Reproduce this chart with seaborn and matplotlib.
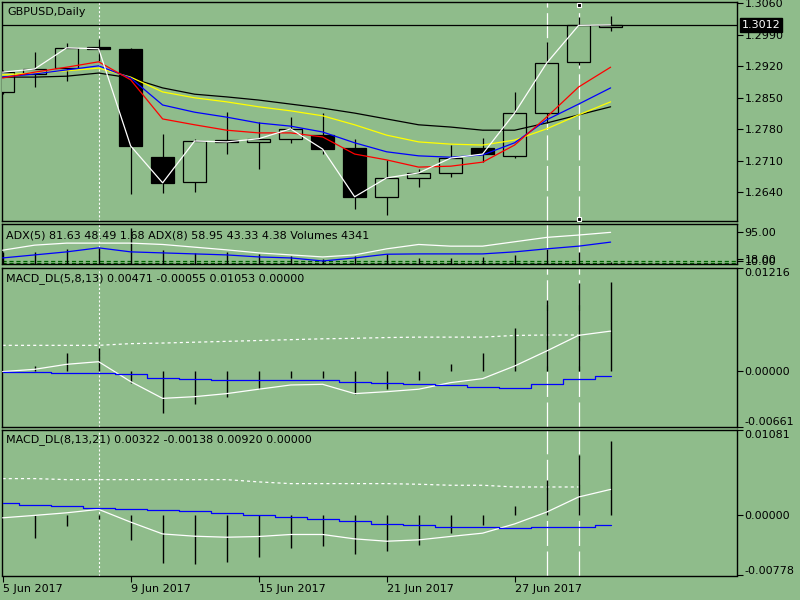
import matplotlib
matplotlib.use("Agg")
import matplotlib.pyplot as plt
import matplotlib.transforms as mtransforms
import seaborn as sns
import numpy as np

BG = "#8FBC8B"

sns.set_style("white")
plt.rcParams["font.family"] = ["DejaVu Sans"]
plt.rcParams["text.color"] = "black"
plt.rcParams["lines.scale_dashes"] = False

# ---- chart data --------------------------------------------------------
date_labels = ["5 Jun 2017", "9 Jun 2017", "15 Jun 2017", "21 Jun 2017", "27 Jun 2017"]
date_label_bars = [0, 4, 8, 12, 16]

opens = [1.2863, 1.2903, 1.2916, 1.2962, 1.2959, 1.2718, 1.2663, 1.2756, 1.2752, 1.2759,
         1.2767, 1.2739, 1.2630, 1.2672, 1.2683, 1.2739, 1.2721, 1.2816, 1.2930, 1.3007]
highs = [1.2912, 1.2952, 1.2972, 1.2981, 1.2960, 1.2770, 1.2759, 1.2818, 1.2796, 1.2807,
         1.2816, 1.2759, 1.2712, 1.2692, 1.2745, 1.2761, 1.2863, 1.2974, 1.3030, 1.3032]
lows = [1.2858, 1.2874, 1.2887, 1.2932, 1.2636, 1.2638, 1.2641, 1.2725, 1.2692, 1.2750,
        1.2725, 1.2603, 1.2590, 1.2652, 1.2674, 1.2707, 1.2716, 1.2794, 1.2922, 1.2998]
closes = [1.2907, 1.2914, 1.2961, 1.2959, 1.2743, 1.2661, 1.2754, 1.2752, 1.2759, 1.2781,
          1.2736, 1.2630, 1.2672, 1.2683, 1.2716, 1.2725, 1.2816, 1.2927, 1.3011, 1.3012]

ma_red = [1.2894, 1.2907, 1.2918, 1.2930, 1.2890, 1.2803, 1.2790, 1.2778, 1.2772, 1.2772,
          1.2763, 1.2725, 1.2712, 1.2696, 1.2698, 1.2707, 1.2745, 1.2807, 1.2874, 1.2918]
ma_blue = [1.2896, 1.2903, 1.2912, 1.2921, 1.2894, 1.2834, 1.2818, 1.2807, 1.2794, 1.2787,
           1.2774, 1.2750, 1.2730, 1.2721, 1.2718, 1.2723, 1.2750, 1.2801, 1.2836, 1.2872]
ma_yellow = [1.2901, 1.2905, 1.2910, 1.2916, 1.2896, 1.2863, 1.2850, 1.2841, 1.2830, 1.2821,
             1.2810, 1.2790, 1.2767, 1.2752, 1.2747, 1.2745, 1.2756, 1.2781, 1.2812, 1.2841]
ma_black = [1.2896, 1.2896, 1.2898, 1.2905, 1.2894, 1.2872, 1.2858, 1.2852, 1.2845, 1.2836,
            1.2827, 1.2816, 1.2803, 1.2790, 1.2785, 1.2778, 1.2778, 1.2794, 1.2812, 1.2830]
price_ticks = [1.3060, 1.2990, 1.2920, 1.2850, 1.2780, 1.2710, 1.2640]

adx_white = [41, 56, 62, 62, 62, 58, 50, 42, 33, 27, 21, 27, 45, 58, 53, 53, 66, 79, 86, 94]
adx_blue = [18, 27, 36, 48, 36, 33, 30, 27, 21, 18, 9, 18, 29, 30, 30, 30, 36, 45, 53, 65]
volumes = [36, 36, 45, 48, 107, 42, 33, 36, 30, 24, 15, 24, 29, 18, 18, 21, 27, 45, 36, 6]
adx_levels = [9, 3]
adx_ticks = [95, 16, 9]
adx_tick_labels = ["95.00", "18.00", "10.00"]

m1_hist = [0.0, 0.00059, 0.00209, 0.00276, -0.00142, -0.00491, -0.00385, -0.00307, -0.00216, -0.00086,
           -0.00086, -0.00267, -0.00216, -0.00106, 0.00087, 0.00217, 0.00504, 0.00835, 0.01035, 0.01053]
m1_main = [-0.00007, 0.00020, 0.00079, 0.00110, -0.00125, -0.00323, -0.00303, -0.00267, -0.00215, -0.00165,
           -0.00157, -0.00267, -0.00244, -0.00215, -0.00137, -0.00090, 0.00059, 0.00236, 0.00421, 0.00471]
m1_signal = [-0.00007, -0.00007, -0.00020, -0.00020, -0.00039, -0.00078, -0.00098, -0.00110, -0.00110, -0.00110,
             -0.00110, -0.00125, -0.00145, -0.00157, -0.00168, -0.00184, -0.00196, -0.00157, -0.00098, -0.00055]
m1_dash = [0.00303, 0.00303, 0.00303, 0.00303, 0.00323, 0.00330, 0.00340, 0.00350, 0.00360, 0.00370,
           0.00380, 0.00386, 0.00395, 0.00400, 0.00400, 0.00400, 0.00420, 0.00425, 0.00425]
m1_range = [-0.00661, 0.01216]

m2_hist = [0.0, -0.00304, -0.00145, -0.00060, -0.00325, -0.00613, -0.00626, -0.00604, -0.00540, -0.00433,
           -0.00398, -0.00497, -0.00463, -0.00382, -0.00240, -0.00133, 0.00116, 0.00437, 0.00767, 0.00940]
m2_main = [-0.00041, -0.00010, 0.00023, 0.00067, -0.00096, -0.00247, -0.00276, -0.00289, -0.00280, -0.00254,
           -0.00254, -0.00310, -0.00340, -0.00323, -0.00279, -0.00237, -0.00119, 0.00032, 0.00225, 0.00322]
m2_signal = [0.00152, 0.00122, 0.00109, 0.00090, 0.00075, 0.00054, 0.00041, 0.00019, -0.00010, -0.00032,
             -0.00051, -0.00083, -0.00122, -0.00139, -0.00160, -0.00160, -0.00173, -0.00160, -0.00152, -0.00138]
m2_dash = [0.00460, 0.00460, 0.00447, 0.00447, 0.00447, 0.00447, 0.00447, 0.00447, 0.00418, 0.00396,
           0.00396, 0.00396, 0.00396, 0.00388, 0.00375, 0.00375, 0.00353, 0.00353, 0.00353]
m2_range = [-0.00778, 0.01081]

marked_bars = [3, 17, 18]

bars = np.arange(len(closes))
FS = 8


def style_panel(ax):
    ax.set_facecolor(BG)
    for s in ax.spines.values():
        s.set_color("black")
        s.set_linewidth(1.0)
    ax.set_xlim(-0.02, 22.95)
    ax.yaxis.tick_right()
    ax.tick_params(axis="y", direction="out", length=4, width=0.8, pad=1.5,
                   labelsize=FS, colors="black")
    ax.tick_params(axis="x", bottom=False, labelbottom=False)
    ax.grid(False)


def draw_marks(ax, solid=False):
    ax.axvline(marked_bars[0], color="white", lw=0.8, dashes=(1.5, 1.5), zorder=1)
    for b in marked_bars[1:]:
        if solid:
            ax.axvline(b, color="white", lw=0.9, zorder=1)
        else:
            ax.axvline(b, color="white", lw=0.9, dashes=(18, 4), zorder=1)


fig = plt.figure(figsize=(8, 6), dpi=100, facecolor=BG)
W = 735 / 800
ax_main = fig.add_axes([2 / 800, 1 - 221 / 600, W, 219 / 600])
ax_adx = fig.add_axes([2 / 800, 1 - 264 / 600, W, 40 / 600])
ax_m1 = fig.add_axes([2 / 800, 1 - 427 / 600, W, 159 / 600])
ax_m2 = fig.add_axes([2 / 800, 1 - 575.5 / 600, W, 145.5 / 600])
for ax in (ax_main, ax_adx, ax_m1, ax_m2):
    style_panel(ax)

# ---- price panel
ax = ax_main
ax.set_ylim(1.25762, 1.30629)
draw_marks(ax)
ax.vlines(bars, lows, highs, color="black", lw=0.9, zorder=2)
o = np.array(opens)
c = np.array(closes)
body_colors = [BG if cc >= oo else "black" for oo, cc in zip(o, c)]
ax.bar(bars, np.abs(c - o), bottom=np.minimum(o, c), width=0.7,
       color=body_colors, edgecolor="black", linewidth=0.9, zorder=3)
for vals, col in [(ma_black, "black"), (ma_yellow, "#FFFF00"), (ma_blue, "#0000FF"), (ma_red, "#FF0000")]:
    sns.lineplot(x=bars, y=vals, color=col, lw=0.9, ax=ax, zorder=4)
sns.lineplot(x=bars, y=closes, color="white", lw=0.9, ax=ax, zorder=5)
ax.axhline(closes[-1], color="black", lw=0.9, zorder=4)
trans = mtransforms.blended_transform_factory(ax.transData, ax.transAxes)
ax.plot([marked_bars[2]] * 2, [0.986, 0.009], ls="none", marker="s", ms=3.2,
        mfc="black", mec="white", mew=0.8, transform=trans, zorder=6, clip_on=False)
ax.set_yticks(price_ticks)
ax.set_yticklabels([f"{t:.4f}" for t in price_ticks])
ax.text(0.0068, 0.954, "GBPUSD,Daily", transform=ax.transAxes, fontsize=FS, va="center",
        color="black")
tr = mtransforms.blended_transform_factory(ax.transAxes, ax.transData)
ax.text(1.0065, closes[-1], f"{closes[-1]:.4f}", transform=tr, fontsize=FS, color="white",
        va="center", ha="left", zorder=10,
        bbox=dict(boxstyle="square,pad=0.15", fc="black", ec="black"))

# ---- ADX / volumes panel
ax = ax_adx
ax.set_ylim(0, 118.8)
draw_marks(ax, solid=True)
for lv in adx_levels:
    ax.axhline(lv, color="#006400", lw=0.9, dashes=(3, 2), zorder=2)
ax.vlines(bars, 0, volumes, color="black", lw=1.0, zorder=3)
sns.lineplot(x=bars, y=adx_white, color="white", lw=0.9, ax=ax, zorder=4)
sns.lineplot(x=bars, y=adx_blue, color="#0000FF", lw=0.9, ax=ax, zorder=4)
ax.set_yticks(adx_ticks)
ax.set_yticklabels(adx_tick_labels)
ax.text(0.0055, 0.70, "ADX(5) 81.63 48.49 1.68 ADX(8) 58.95 43.33 4.38 Volumes 4341",
        transform=ax.transAxes, fontsize=FS, va="center", zorder=5, color="black")


# ---- MACD panels
def macd_panel(ax, hist, main, signal, dash, yr, title):
    ax.set_ylim(*yr)
    draw_marks(ax)
    ax.vlines(bars, 0, hist, color="black", lw=1.0, zorder=3)
    sns.lineplot(x=bars[:len(dash)], y=dash, color="white", lw=0.9, ax=ax, zorder=2,
                 dashes=False, linestyle=(0, (2.2, 2.2)))
    sns.lineplot(x=bars, y=main, color="white", lw=0.9, ax=ax, zorder=4)
    sns.lineplot(x=bars, y=signal, color="#0000FF", lw=0.9, ax=ax, zorder=4, drawstyle="steps-mid")
    ticks = [yr[1], 0.0, yr[0]]
    ax.set_yticks(ticks)
    ax.set_yticklabels([f"{t:.5f}" for t in ticks])
    labels = ax.get_yticklabels()
    labels[0].set_va("top")
    labels[2].set_va("bottom")
    ax.text(0.0055, 0.935, title, transform=ax.transAxes, fontsize=FS, va="center", color="black")


macd_panel(ax_m1, m1_hist, m1_main, m1_signal, m1_dash, m1_range,
           "MACD_DL(5,8,13) 0.00471 -0.00055 0.01053 0.00000")
macd_panel(ax_m2, m2_hist, m2_main, m2_signal, m2_dash, m2_range,
           "MACD_DL(8,13,21) 0.00322 -0.00138 0.00920 0.00000")

ax_m2.set_xticks(date_label_bars)
ax_m2.set_xticklabels(date_labels)
ax_m2.tick_params(axis="x", bottom=True, labelbottom=True, direction="out", length=4,
                  width=0.8, pad=2, labelsize=FS, colors="black")
for lab in ax_m2.get_xticklabels():
    lab.set_ha("left")

for ax in (ax_main, ax_adx, ax_m1, ax_m2):
    ax.set_xlabel("")
    ax.set_ylabel("")
    if ax.get_legend():
        ax.get_legend().remove()

fig.savefig("out.png", dpi=100, facecolor=BG)
